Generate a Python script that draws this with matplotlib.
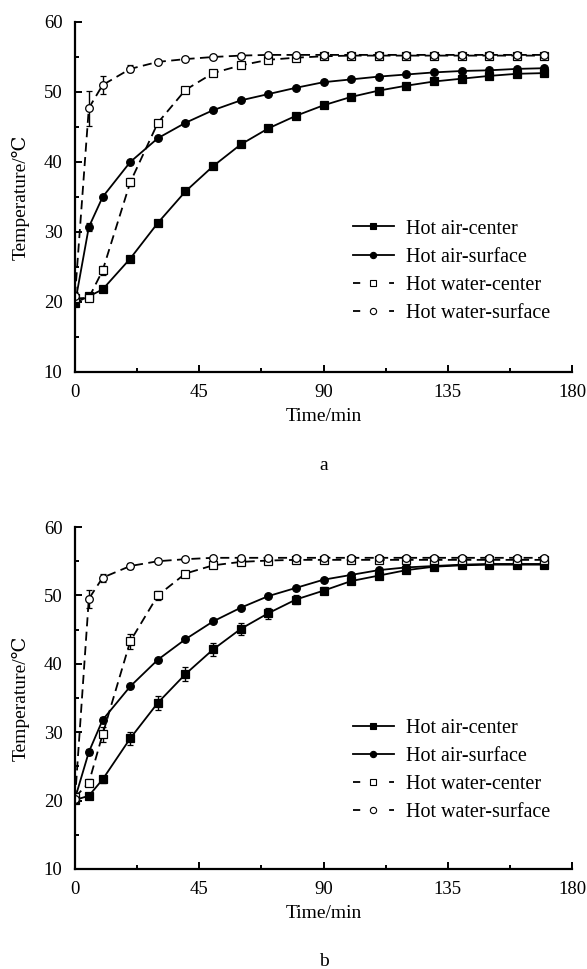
import matplotlib
matplotlib.use("Agg")
import matplotlib.pyplot as plt
from matplotlib.ticker import MultipleLocator
from matplotlib.lines import Line2D

plt.rcParams['font.family'] = ['Liberation Serif', 'DejaVu Serif']

time = [0, 5, 10, 20, 30, 40, 50, 60, 70, 80, 90, 100, 110, 120, 130, 140, 150, 160, 170]

# Panel a
a_air_center = [19.9, 20.8, 21.8, 26.2, 31.3, 35.8, 39.4, 42.5, 44.8, 46.6, 48.1, 49.3, 50.2, 50.9, 51.5, 51.9, 52.3, 52.6, 52.7]
a_air_surface = [19.8, 30.7, 35.0, 40.0, 43.4, 45.6, 47.4, 48.8, 49.7, 50.6, 51.4, 51.8, 52.2, 52.5, 52.8, 53.0, 53.1, 53.3, 53.4]
a_water_center = [20.5, 20.6, 24.5, 37.1, 45.6, 50.3, 52.7, 53.8, 54.6, 54.9, 55.1, 55.2, 55.2, 55.2, 55.2, 55.2, 55.2, 55.2, 55.2]
a_water_surface = [20.9, 47.7, 51.0, 53.3, 54.3, 54.7, 55.0, 55.2, 55.3, 55.3, 55.3, 55.3, 55.3, 55.3, 55.3, 55.3, 55.3, 55.3, 55.3]
a_err_air_center = [0.2, 0.3, 0.3, 0.3, 0.3, 0.3, 0.3, 0.3, 0.3, 0.3, 0.3, 0.3, 0.3, 0.3, 0.3, 0.3, 0.3, 0.3, 0.3]
a_err_air_surface = [0.2, 0.6, 0.3, 0.3, 0.3, 0.3, 0.3, 0.3, 0.3, 0.3, 0.3, 0.3, 0.3, 0.3, 0.3, 0.3, 0.3, 0.3, 0.3]
a_err_water_center = [0.3, 0.5, 0.6, 0.6, 0.4, 0.3, 0.3, 0.3, 0.3, 0.3, 0.3, 0.3, 0.3, 0.3, 0.3, 0.3, 0.3, 0.3, 0.3]
a_err_water_surface = [0.5, 2.5, 1.3, 0.5, 0.3, 0.3, 0.3, 0.3, 0.3, 0.3, 0.3, 0.3, 0.3, 0.3, 0.3, 0.3, 0.3, 0.3, 0.3]

# Panel b
b_air_center = [20.1, 20.7, 23.1, 29.1, 34.3, 38.5, 42.1, 45.1, 47.4, 49.4, 50.7, 52.1, 52.9, 53.7, 54.2, 54.4, 54.5, 54.5, 54.5]
b_air_surface = [20.3, 27.1, 31.8, 36.7, 40.6, 43.6, 46.2, 48.2, 49.9, 51.1, 52.3, 53.0, 53.7, 54.1, 54.3, 54.5, 54.6, 54.6, 54.6]
b_water_center = [20.5, 22.6, 29.7, 43.3, 50.0, 53.2, 54.4, 54.9, 55.1, 55.2, 55.2, 55.2, 55.2, 55.2, 55.2, 55.2, 55.2, 55.2, 55.2]
b_water_surface = [20.2, 49.5, 52.6, 54.3, 55.0, 55.3, 55.5, 55.5, 55.5, 55.5, 55.5, 55.5, 55.5, 55.5, 55.5, 55.5, 55.5, 55.5, 55.5]
b_err_air_center = [0.3, 0.4, 0.5, 0.9, 1.0, 1.0, 1.0, 0.9, 0.8, 0.7, 0.5, 0.4, 0.4, 0.3, 0.3, 0.3, 0.3, 0.3, 0.3]
b_err_air_surface = [0.3, 0.4, 0.4, 0.3, 0.3, 0.3, 0.3, 0.3, 0.3, 0.3, 0.3, 0.3, 0.3, 0.3, 0.3, 0.3, 0.3, 0.3, 0.3]
b_err_water_center = [0.3, 0.5, 1.1, 1.1, 0.6, 0.4, 0.4, 0.3, 0.3, 0.3, 0.3, 0.3, 0.3, 0.3, 0.3, 0.3, 0.3, 0.3, 0.3]
b_err_water_surface = [0.5, 1.3, 0.6, 0.4, 0.3, 0.3, 0.3, 0.3, 0.3, 0.3, 0.3, 0.3, 0.3, 0.3, 0.3, 0.3, 0.3, 0.3, 0.3]

labels = ['Hot air-center', 'Hot air-surface', 'Hot water-center', 'Hot water-surface']
x_ticks = [0, 45, 90, 135, 180]
y_ticks = [10, 20, 30, 40, 50, 60]
panel_letters = ['a', 'b']

DASH = (0, (5, 3))
LEG_DASH = (0, (4, 16))
styles = [
    dict(marker='s', ls='-', mfc='black'),
    dict(marker='o', ls='-', mfc='black'),
    dict(marker='s', ls=DASH, mfc='white'),
    dict(marker='o', ls=DASH, mfc='white'),
]

fig = plt.figure(figsize=(5.87, 9.69), dpi=100)
ax_a = fig.add_axes([0.1278, 0.6161, 0.8467, 0.3612])
ax_b = fig.add_axes([0.1278, 0.1032, 0.8467, 0.3529])

def draw(ax, series, errs):
    for y, e, st in zip(series, errs, styles):
        ax.errorbar(time, y, yerr=e, color='black', lw=1.3, ls=st['ls'],
                    marker=st['marker'], ms=5.5, mfc=st['mfc'], mec='black',
                    mew=0.9, capsize=2.5, elinewidth=1.0, capthick=1.0)
    ax.set_xlim(0, 180)
    ax.set_ylim(10, 60)
    ax.set_xticks(x_ticks)
    ax.set_yticks(y_ticks)
    ax.xaxis.set_minor_locator(MultipleLocator(22.5))
    ax.yaxis.set_minor_locator(MultipleLocator(5))
    for s in ['top', 'right']:
        ax.spines[s].set_visible(False)
    for s in ['left', 'bottom']:
        ax.spines[s].set_linewidth(1.6)
    ax.tick_params(which='major', direction='in', length=5, width=1.4, labelsize=13.5, pad=9)
    ax.tick_params(which='minor', direction='in', length=3, width=1.4)
    ax.set_xlabel('Time/min', fontsize=14, labelpad=5)
    ax.set_ylabel('Temperature/℃', fontsize=14, labelpad=10)
    handles = [Line2D([], [], color='black', lw=1.3,
                      ls=('-' if st['ls'] == '-' else LEG_DASH),
                      marker=st['marker'], ms=4.5, mfc=st['mfc'], mec='black', mew=0.8)
               for st in styles]
    ax.legend(handles, labels, loc='center left', bbox_to_anchor=(0.559, 0.288), frameon=False,
              fontsize=14.5, handlelength=2.05, handletextpad=0.6, labelspacing=0.45,
              borderaxespad=0, borderpad=0)

draw(ax_a, [a_air_center, a_air_surface, a_water_center, a_water_surface],
     [a_err_air_center, a_err_air_surface, a_err_water_center, a_err_water_surface])
draw(ax_b, [b_air_center, b_air_surface, b_water_center, b_water_surface],
     [b_err_air_center, b_err_air_surface, b_err_water_center, b_err_water_surface])

cx = 0.1278 + 0.8467 / 2
fig.text(cx, 1 - 465 / 969, panel_letters[0], ha='center', va='center', fontsize=14)
fig.text(cx, 1 - 962 / 969, panel_letters[1], ha='center', va='center', fontsize=14)

fig.savefig('out.png', dpi=100)
